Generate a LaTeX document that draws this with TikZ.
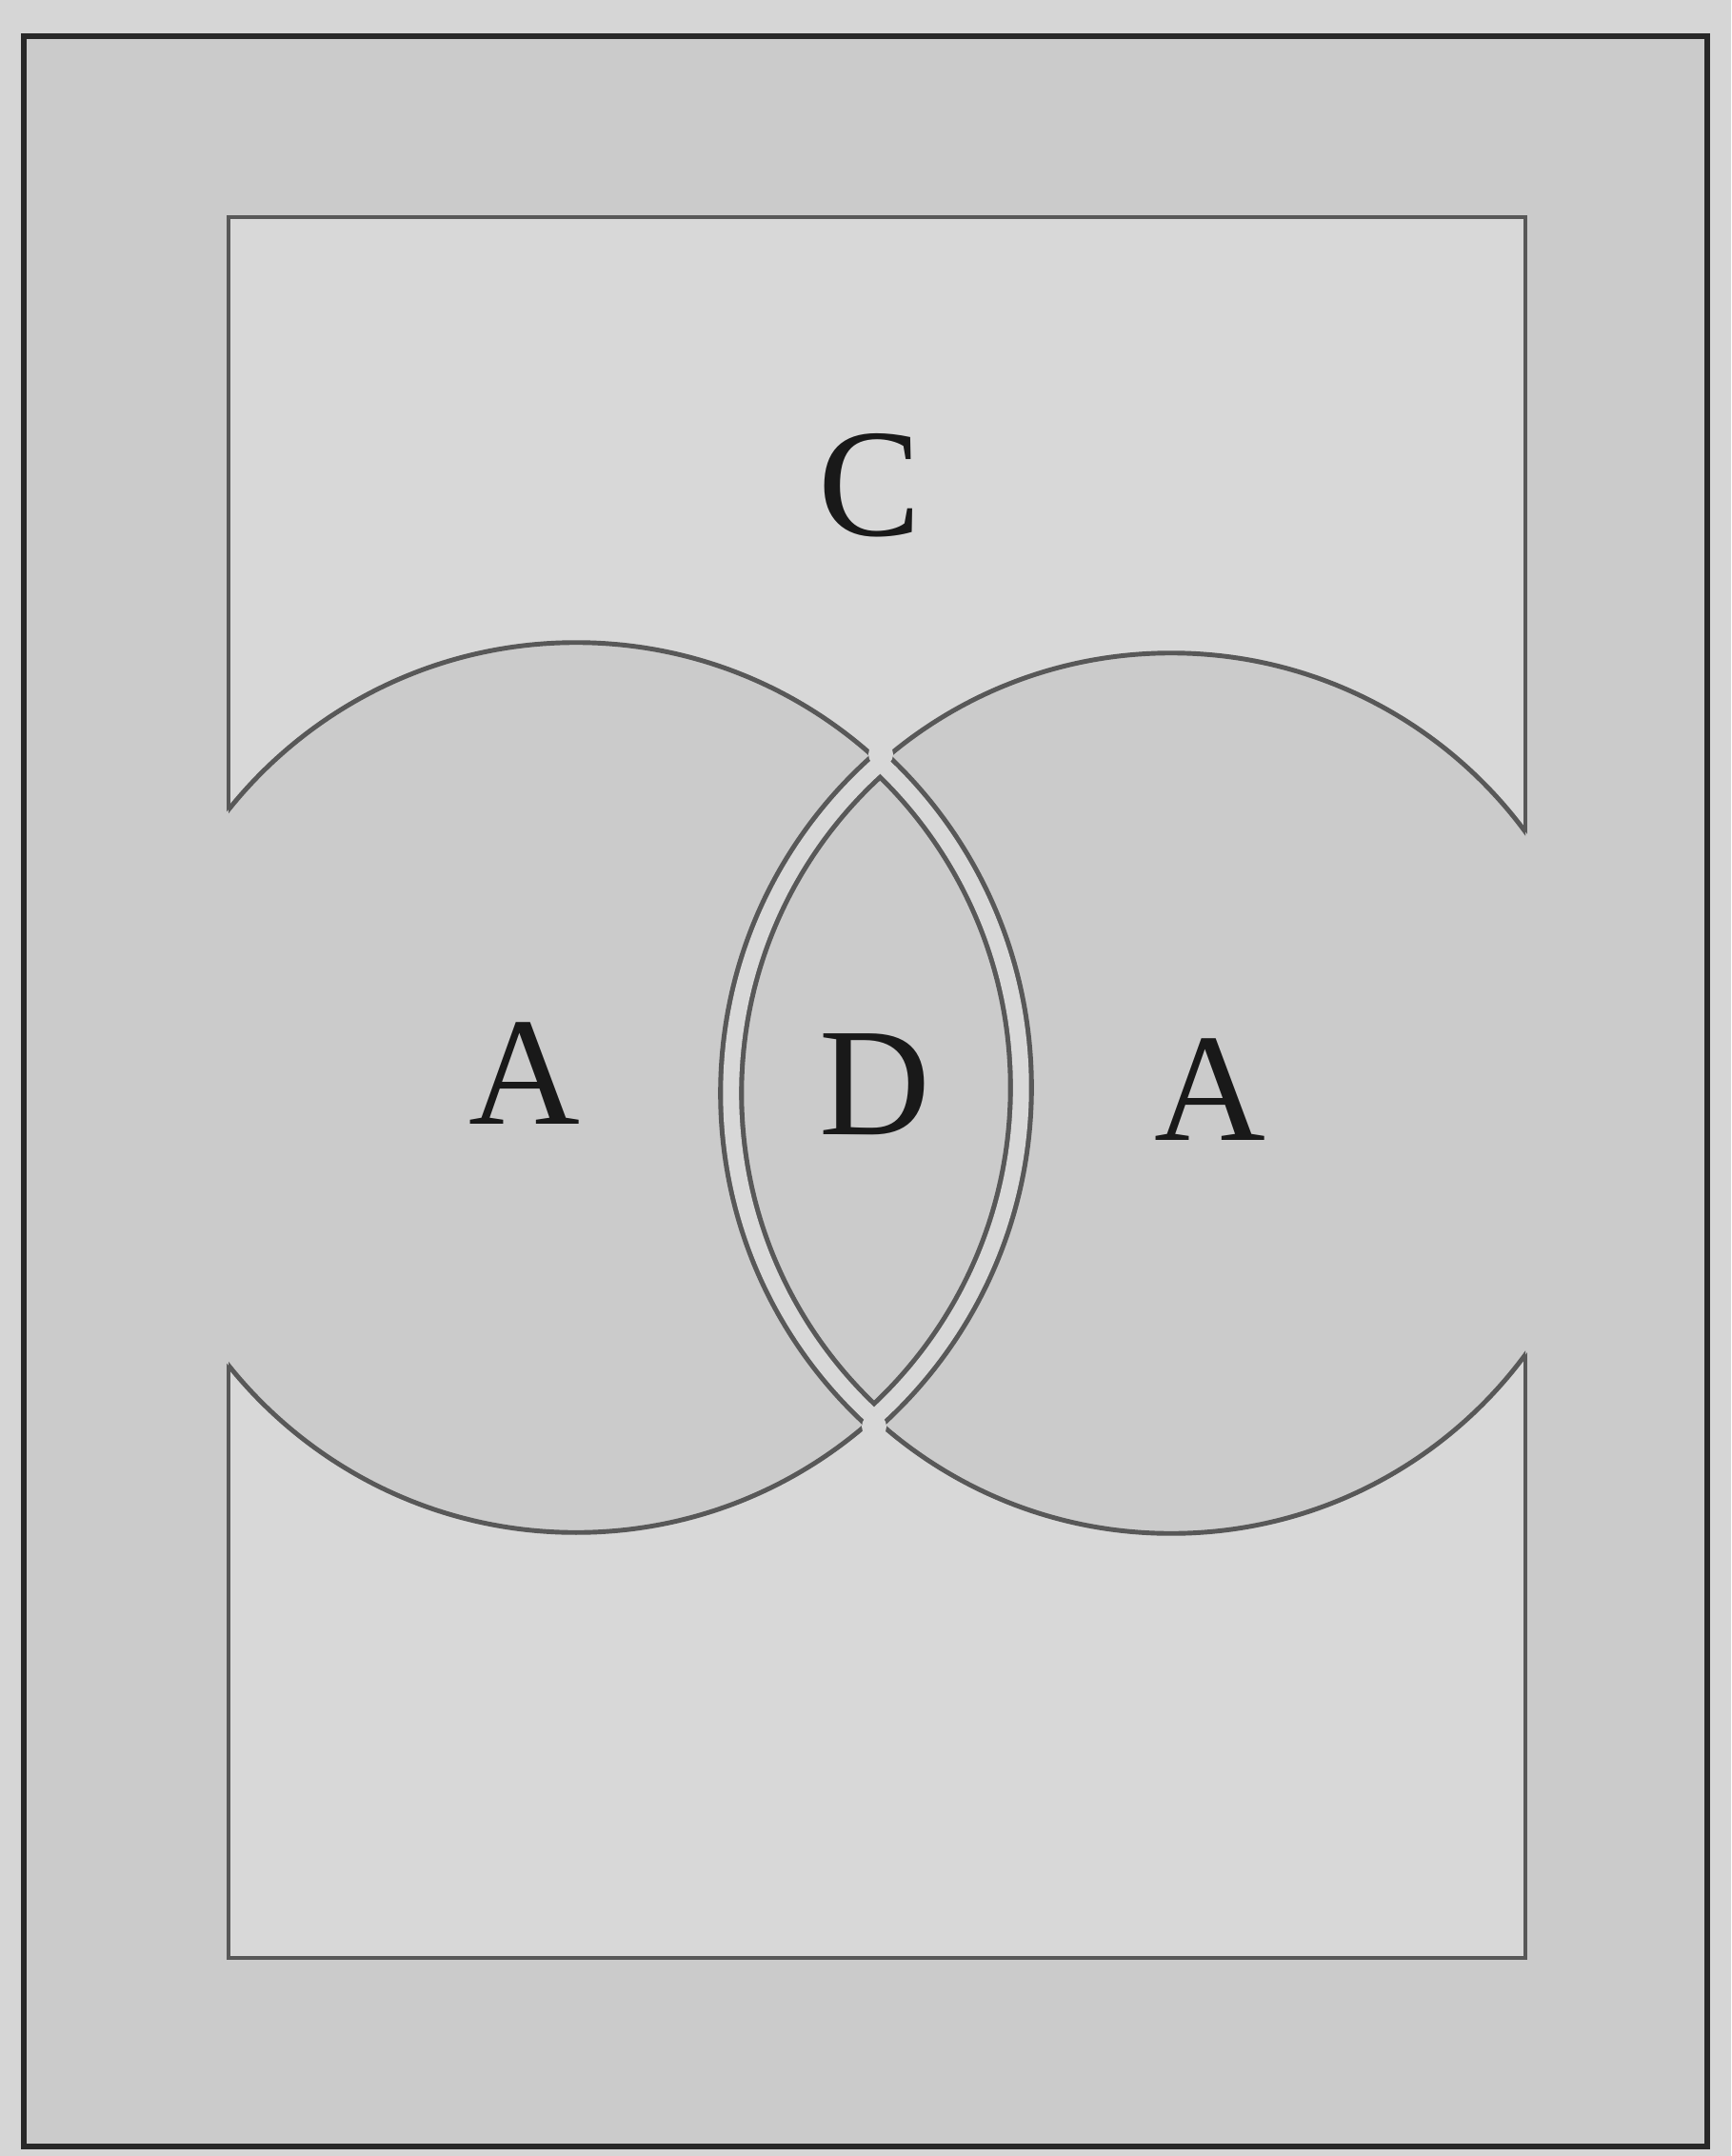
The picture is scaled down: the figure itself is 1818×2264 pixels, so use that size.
\documentclass[tikz,border=0pt]{standalone}
\usepackage{fontspec}
\setmainfont{Liberation Serif}
\definecolor{pagebg}{RGB}{214,214,214}
\definecolor{texture}{RGB}{203,203,203}
\definecolor{lightc}{RGB}{216,216,216}
\definecolor{ink}{RGB}{88,88,88}
\definecolor{frame}{RGB}{40,40,40}
\definecolor{letter}{RGB}{25,25,25}
\tikzset{
  thinline/.style={draw=ink, line width=1.4pt},
  band/.style={draw=ink, line width=7.7pt},
  core/.style={draw=lightc, line width=4.8pt},
  lbl/.style={inner sep=0pt, text=letter, font=\fontsize{46}{50}\selectfont},
}
\begin{document}
\begin{tikzpicture}[x=0.01cm,y=-0.01cm]
\fill[pagebg] (0,0) rectangle (1818,2264);
\useasboundingbox (0,0) rectangle (1818,2264);
% outer frame
\filldraw[fill=texture, draw=frame, line width=1.7pt] (25,38) rectangle (1793,2254);
% circle centres
\coordinate (cL) at (605,1142);
\coordinate (cR) at (1230,1148);
\def\rL{4.67cm}
\def\rR{4.62cm}
% inner rectangle (region C)
\filldraw[fill=lightc, thinline] (240,228) rectangle (1602,2056);
\fill[texture] (cL) circle[radius=\rL];
\fill[texture] (cR) circle[radius=\rR];
\begin{scope}
  \clip (240,228) rectangle (1602,2056);
  \draw[thinline] (cL) circle[radius=\rL];
  \draw[thinline] (cR) circle[radius=\rR];
\end{scope}
% double boundary of the lens
\begin{scope}
  \clip (cR) circle[radius=\rR];
  \draw[band] (cL) circle[radius=\rL];
\end{scope}
\begin{scope}
  \clip (cL) circle[radius=\rL];
  \draw[band] (cR) circle[radius=\rR];
\end{scope}
\begin{scope}
  \clip (cR) circle[radius=\rR];
  \draw[core] (cL) circle[radius=\rL];
\end{scope}
\begin{scope}
  \clip (cL) circle[radius=\rL];
  \draw[core] (cR) circle[radius=\rR];
\end{scope}
% open the cusps
\fill[lightc] (925,792) circle[radius=0.13cm];
\fill[lightc] (918,1498) circle[radius=0.13cm];
% labels
\node[lbl] (C) at (913,510) {C};
\node[lbl] (A1) at (551,1127) {A};
\node[lbl] (D) at (919,1139) {D};
\node[lbl] (A2) at (1271,1144) {A};
\end{tikzpicture}
\end{document}
